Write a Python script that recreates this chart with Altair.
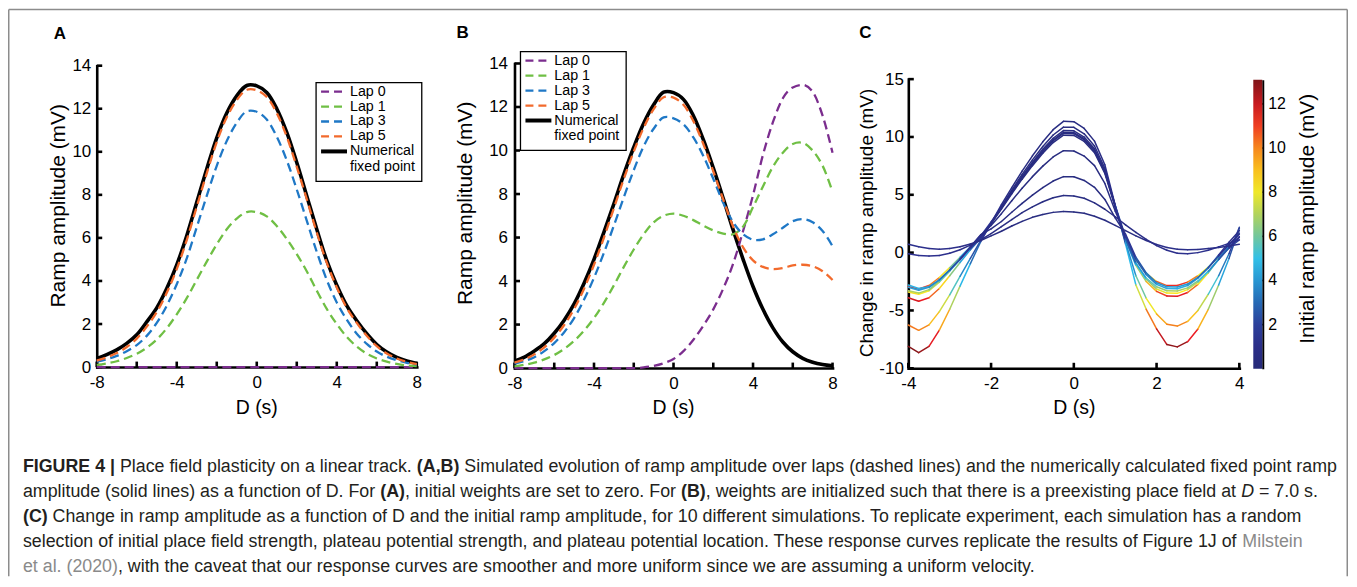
import altair as alt
import pandas as pd

FONT = "Liberation Sans"
W, H = 1345, 569
TEXT = "#231f20"
GREY = "#8a8a8a"

# ---------------- data: panels A and B ----------------
X_AB = [-8.0, -7.5, -7.0, -6.5, -6.0, -5.5, -5.0, -4.5, -4.0, -3.5, -3.0, -2.5, -2.0, -1.5, -1.0, -0.5,
        0.0, 0.5, 1.0, 1.5, 2.0, 2.5, 3.0, 3.5, 4.0, 4.5, 5.0, 5.5, 6.0, 6.5, 7.0, 7.5, 8.0]

A_FIXED = [0.40, 0.58, 0.80, 1.10, 1.50, 2.10, 2.75, 3.65, 4.75, 6.10, 7.65, 9.20, 10.65, 11.80, 12.60, 13.08,
           13.06, 12.75, 12.00, 10.90, 9.50, 7.95, 6.40, 4.95, 3.80, 2.85, 2.15, 1.55, 1.05, 0.70, 0.45, 0.28, 0.17]
A_LAP0 = [0, 0, 0, 0, 0, 0, 0, 0, 0, 0, 0, 0, 0, 0, 0, 0, 0, 0, 0, 0, 0, 0, 0, 0, 0, 0, 0, 0, 0, 0, 0, 0, 0]
A_LAP1 = [0.10, 0.17, 0.27, 0.42, 0.62, 0.90, 1.28, 1.80, 2.45, 3.20, 4.05, 4.90, 5.70, 6.40, 6.90, 7.20,
          7.20, 7.00, 6.55, 5.95, 5.25, 4.45, 3.55, 2.70, 2.00, 1.40, 0.95, 0.62, 0.40, 0.25, 0.15, 0.08, 0.05]
A_LAP3 = [0.25, 0.36, 0.52, 0.74, 1.02, 1.45, 2.05, 2.85, 3.85, 5.05, 6.50, 7.95, 9.35, 10.50, 11.35, 11.88,
          11.86, 11.50, 10.70, 9.60, 8.25, 6.80, 5.35, 4.05, 3.00, 2.20, 1.55, 1.08, 0.72, 0.48, 0.32, 0.20, 0.12]
A_LAP5 = [0.30, 0.45, 0.65, 0.93, 1.32, 1.88, 2.55, 3.45, 4.55, 5.90, 7.45, 9.00, 10.45, 11.60, 12.40, 12.88,
          12.86, 12.55, 11.80, 10.70, 9.30, 7.80, 6.25, 4.85, 3.70, 2.75, 2.05, 1.45, 0.97, 0.63, 0.40, 0.24, 0.14]

B_FIXED = [0.32, 0.50, 0.78, 1.12, 1.60, 2.20, 2.95, 3.90, 5.00, 6.25, 7.55, 8.90, 10.15, 11.25, 12.10, 12.68,
           12.66, 12.35, 11.60, 10.50, 9.20, 7.80, 6.35, 5.00, 3.75, 2.70, 1.85, 1.20, 0.75, 0.45, 0.27, 0.16, 0.10]
B_LAP0 = [0, 0, 0, 0, 0, 0, 0, 0, 0, 0, 0, 0, 0, 0.03, 0.10, 0.22,
          0.42, 0.78, 1.30, 1.95, 2.70, 3.65, 4.80, 6.30, 7.95, 9.80, 11.30, 12.40, 12.90, 13.02, 12.70, 11.60, 9.90]
B_LAP1 = [0.08, 0.15, 0.25, 0.40, 0.60, 0.88, 1.25, 1.72, 2.30, 3.00, 3.80, 4.65, 5.45, 6.15, 6.70, 7.00,
          7.10, 7.00, 6.80, 6.55, 6.33, 6.18, 6.15, 6.50, 7.40, 8.35, 9.25, 9.90, 10.30, 10.35, 10.00, 9.30, 8.10]
B_LAP3 = [0.20, 0.32, 0.50, 0.78, 1.15, 1.65, 2.30, 3.15, 4.15, 5.30, 6.55, 7.85, 9.10, 10.20, 11.00, 11.52,
          11.48, 11.20, 10.60, 9.75, 8.70, 7.60, 6.70, 6.15, 5.90, 5.92, 6.15, 6.45, 6.75, 6.85, 6.70, 6.30, 5.60]
B_LAP5 = [0.25, 0.40, 0.63, 0.95, 1.40, 1.98, 2.72, 3.65, 4.75, 6.00, 7.35, 8.70, 9.95, 11.05, 11.90, 12.45,
          12.43, 12.10, 11.35, 10.30, 9.05, 7.75, 6.50, 5.55, 4.95, 4.65, 4.55, 4.60, 4.72, 4.75, 4.68, 4.45, 4.05]

SERIES = ["Lap 0", "Lap 1", "Lap 3", "Lap 5", "Numerical fixed point"]
SERIES_KEYS = ["lap0", "lap1", "lap3", "lap5", "fixed"]
SERIES_COLORS = ["#7b2d8e", "#6fbf44", "#1f78c6", "#f26a2c", "#000000"]
DASH = [9, 5]

# ---------------- data: panel C ----------------
X_C = [-4.0, -3.75, -3.5, -3.25, -3.0, -2.75, -2.5, -2.25, -2.0, -1.75, -1.5, -1.25, -1.0, -0.75, -0.5, -0.25,
       0.0, 0.25, 0.5, 0.75, 1.0, 1.25, 1.5, 1.75, 2.0, 2.25, 2.5, 2.75, 3.0, 3.25, 3.5, 3.75, 4.0]

C_CHANGE = [
    [-8.1, -8.65, -8.1, -6.7, -4.9, -2.9, -0.95, 0.95, 2.55, 4.14, 5.62, 7.05, 8.37, 9.58, 10.63, 11.35,
     11.32, 10.74, 9.64, 7.6, 4.1, 0.75, -2.8, -4.9, -6.6, -7.95, -8.15, -7.7, -6.6, -4.9, -2.8, -0.5, 2.1],
    [-6.26, -6.72, -6.25, -5.1, -3.65, -2.05, -0.5, 1.05, 2.5, 3.98, 5.4, 6.76, 8.02, 9.17, 10.17, 10.85,
     10.83, 10.27, 9.22, 7.29, 4.0, 0.9, -2.0, -3.95, -5.3, -6.2, -6.35, -5.95, -5.0, -3.6, -2.0, -0.1, 2.2],
    [-3.9, -4.2, -3.9, -3.1, -2.0, -0.85, 0.25, 1.25, 2.52, 3.9, 5.27, 6.6, 7.81, 8.93, 9.89, 10.55,
     10.53, 9.99, 8.98, 7.1, 4.05, 1.05, -1.1, -2.5, -3.35, -3.75, -3.78, -3.45, -2.75, -1.75, -0.55, 0.6, 1.7],
    [-2.95, -3.15, -2.85, -2.15, -1.3, -0.4, 0.5, 1.45, 2.65, 3.9, 5.2, 6.5, 7.7, 8.8, 9.75, 10.4,
     10.38, 9.85, 8.85, 7.0, 4.1, 1.35, -0.6, -1.8, -2.5, -2.85, -2.85, -2.55, -2.0, -1.25, -0.4, 0.4, 1.1],
    [-3.4, -3.6, -3.3, -2.55, -1.6, -0.6, 0.4, 1.35, 2.55, 3.82, 5.16, 6.44, 7.63, 8.72, 9.66, 10.3,
     10.28, 9.76, 8.77, 6.94, 4.0, 1.15, -0.95, -2.3, -3.15, -3.5, -3.52, -3.2, -2.55, -1.65, -0.6, 0.45, 1.4],
    [-3.3, -3.5, -3.2, -2.45, -1.5, -0.55, 0.4, 1.3, 2.5, 3.77, 5.09, 6.35, 7.52, 8.59, 9.52, 10.15,
     10.13, 9.61, 8.64, 6.84, 3.95, 1.2, -0.9, -2.2, -2.95, -3.3, -3.32, -3.05, -2.45, -1.6, -0.6, 0.4, 1.3],
    [-2.8, -3.1, -2.95, -2.35, -1.5, -0.55, 0.45, 1.5, 2.35, 3.37, 4.49, 5.57, 6.57, 7.48, 8.27, 8.81,
     8.79, 8.35, 7.52, 5.98, 3.6, 1.45, -0.6, -1.9, -2.75, -3.1, -3.12, -2.85, -2.2, -1.3, -0.2, 0.9, 1.9],
    [-3.0, -3.25, -3.0, -2.35, -1.5, -0.6, 0.5, 1.55, 2.05, 2.69, 3.49, 4.26, 4.97, 5.62, 6.19, 6.57,
     6.56, 6.24, 5.65, 4.6, 3.0, 1.6, -0.4, -1.75, -2.6, -2.95, -2.98, -2.72, -2.15, -1.3, -0.3, 0.7, 1.6],
    [-0.1, -0.25, -0.3, -0.25, -0.05, 0.25, 0.65, 1.1, 1.65, 2.25, 2.85, 3.45, 3.95, 4.4, 4.75, 4.93,
     4.9, 4.7, 4.3, 3.75, 3.1, 2.4, 1.75, 1.15, 0.6, 0.2, -0.05, -0.1, 0.0, 0.2, 0.5, 0.8, 1.1],
    [0.72, 0.5, 0.35, 0.3, 0.35, 0.5, 0.75, 1.05, 1.45, 1.85, 2.3, 2.7, 3.05, 3.3, 3.48, 3.55,
     3.52, 3.4, 3.15, 2.8, 2.35, 1.9, 1.45, 1.05, 0.7, 0.45, 0.3, 0.25, 0.28, 0.35, 0.45, 0.58, 0.72],
]
C_INITIAL = [
    [13.0, 13.0, 12.4, 10.7, 8.2, 5.7, 3.8, 2.4, 1.5, 1.0, 0.7, 0.7, 0.7, 0.7, 0.7, 0.7,
     0.7, 0.7, 0.7, 0.9, 1.7, 3.6, 6.1, 9.0, 11.4, 12.7, 13.0, 12.4, 10.5, 8.0, 5.4, 3.2, 1.7],
    [10.2, 10.2, 9.7, 8.4, 6.5, 4.5, 3.0, 2.0, 1.3, 0.9, 0.6, 0.6, 0.6, 0.6, 0.6, 0.6,
     0.6, 0.6, 0.6, 0.8, 1.4, 2.9, 4.8, 7.1, 8.9, 10.0, 10.2, 9.7, 8.2, 6.3, 4.3, 2.6, 1.4],
    [11.8, 11.8, 11.2, 9.7, 7.5, 5.2, 3.5, 2.2, 1.4, 1.0, 0.6, 0.6, 0.6, 0.6, 0.6, 0.6,
     0.6, 0.6, 0.6, 0.9, 1.5, 3.3, 5.5, 8.2, 10.3, 11.6, 11.8, 11.2, 9.5, 7.2, 5.0, 2.9, 1.5],
    [11.4, 11.4, 10.9, 9.4, 7.2, 5.0, 3.4, 2.2, 1.4, 1.0, 0.6, 0.6, 0.6, 0.6, 0.6, 0.6,
     0.6, 0.6, 0.6, 0.8, 1.5, 3.2, 5.4, 7.9, 10.0, 11.2, 11.4, 10.9, 9.2, 7.0, 4.8, 2.8, 1.5],
    [8.4, 8.4, 8.0, 7.0, 5.4, 3.8, 2.6, 1.7, 1.1, 0.8, 0.6, 0.6, 0.6, 0.6, 0.6, 0.6,
     0.6, 0.6, 0.6, 0.7, 1.2, 2.4, 4.0, 5.8, 7.4, 8.2, 8.4, 8.0, 6.8, 5.2, 3.6, 2.2, 1.2],
    [7.0, 7.0, 6.7, 5.8, 4.5, 3.2, 2.2, 1.5, 1.0, 0.7, 0.5, 0.5, 0.5, 0.5, 0.5, 0.5,
     0.5, 0.5, 0.5, 0.7, 1.1, 2.1, 3.4, 4.9, 6.1, 6.9, 7.0, 6.7, 5.7, 4.4, 3.0, 1.9, 1.1],
    [4.6, 4.6, 4.4, 3.8, 3.0, 2.2, 1.5, 1.1, 0.8, 0.6, 0.5, 0.5, 0.5, 0.5, 0.5, 0.5,
     0.5, 0.5, 0.5, 0.6, 0.8, 1.5, 2.3, 3.3, 4.1, 4.5, 4.6, 4.4, 3.8, 2.9, 2.1, 1.3, 0.8],
    [4.2, 4.2, 4.0, 3.5, 2.8, 2.0, 1.4, 1.0, 0.7, 0.6, 0.5, 0.5, 0.5, 0.5, 0.5, 0.5,
     0.5, 0.5, 0.5, 0.6, 0.8, 1.4, 2.1, 3.0, 3.7, 4.1, 4.2, 4.0, 3.4, 2.7, 1.9, 1.2, 0.8],
    [1.6, 1.5, 1.4, 1.3, 1.2, 1.1, 1.0, 0.9, 0.8, 0.7, 0.6, 0.6, 0.6, 0.6, 0.6, 0.6,
     0.6, 0.6, 0.6, 0.6, 0.7, 0.8, 0.9, 1.0, 1.1, 1.2, 1.3, 1.3, 1.3, 1.3, 1.3, 1.3, 1.3],
    [1.3, 1.3, 1.2, 1.2, 1.1, 1.0, 0.9, 0.8, 0.7, 0.6, 0.5, 0.5, 0.5, 0.5, 0.5, 0.5,
     0.5, 0.5, 0.5, 0.6, 0.6, 0.7, 0.8, 0.9, 1.0, 1.1, 1.1, 1.1, 1.1, 1.1, 1.1, 1.1, 1.1],
]

CB_TICKS = [2, 4, 6, 8, 10, 12]
CB_MAX = 13.1
JET = ["#262a78", "#2e3192", "#2474bb", "#2cc0ee", "#95c973", "#fbec1f", "#f7941d", "#ec1c24", "#7e1518"]
CB_STOPS = [CB_MAX * i / (len(JET) - 1) for i in range(len(JET))]

AB_XLABELS = [-8, -4, 0, 4, 8]
AB_XTICKS = [-8, -6, -4, -2, 0, 2, 4, 6, 8]
AB_YTICKS = [0, 2, 4, 6, 8, 10, 12, 14]
C_XTICKS = [-4, -2, 0, 2, 4]
C_YTICKS = [-10, -5, 0, 5, 10, 15]

# ---------------- layout (pixels inside the view) ----------------
PANELS = {
    "A": dict(xd=[-8, 8], yd=[0, 14], x0=89, x1=410, y0=359.3, y1=57.0,
              ytx=50.3, yty=197.0, ytfs=21, ylp=6, xt=249),
    "B": dict(xd=[-8, 8], yd=[0, 14], x0=508, x1=827, y0=360.3, y1=54.8,
              ytx=459.3, yty=194.5, ytfs=21, ylp=7, xt=667),
    "C": dict(xd=[-4, 4], yd=[-10, 15], x0=903, x1=1235, y0=360.5, y1=70.5,
              ytx=861.0, yty=214.3, ytfs=19, ylp=5, xt=1069),
}
CB = dict(x0=1249, x1=1258, y0=361, y1=71)
TICK_LEN = 5.5


def sx(p):
    return alt.Scale(domain=p["xd"], range=[p["x0"], p["x1"]], nice=False, zero=False)


def sy(p):
    return alt.Scale(domain=p["yd"], range=[p["y0"], p["y1"]], nice=False, zero=False)


def main_x_axis(p, values):
    return alt.Axis(orient="bottom", offset=p["y0"] - H, values=values, title="D (s)",
                    titleX=p["xt"], titleY=400 - p["y0"], titleAlign="center", titleBaseline="middle",
                    titleFont=FONT, titleFontSize=19.5, titleFontWeight="normal", titleColor="black",
                    labelFont=FONT, labelFontSize=17, labelColor="black", labelPadding=15.5,
                    labelBaseline="middle", labelFlush=False, labelOverlap=False,
                    labelExpr="toString(datum.value)", ticks=False, tickSize=0, grid=False,
                    domain=True, domainColor="black", domainWidth=2.6, domainCap="square")


def main_y_axis(p, values, title):
    return alt.Axis(orient="left", offset=-p["x0"], values=values, title=title,
                    titleX=p["ytx"] - p["x0"], titleY=p["yty"], titleAngle=270, titleAlign="center",
                    titleBaseline="middle", titleFont=FONT, titleFontSize=p["ytfs"],
                    titleFontWeight="normal", titleColor="black",
                    labelFont=FONT, labelFontSize=17, labelColor="black", labelPadding=p["ylp"],
                    labelOverlap=False, labelFlush=False, labelExpr="toString(datum.value)",
                    ticks=False, tickSize=0, grid=False,
                    domain=True, domainColor="black", domainWidth=2.6, domainCap="square")


def inward_ticks(p, xticks, yticks):
    """MATLAB-style ticks pointing into the plot, placed through the panel scales."""
    out = []
    out.append(alt.Chart(pd.DataFrame({"v": xticks})).mark_rule(color="black", strokeWidth=2.6).encode(
        x=alt.X("v:Q", scale=sx(p), axis=None),
        y=alt.value(p["y0"]), y2=alt.value(p["y0"] - TICK_LEN)))
    out.append(alt.Chart(pd.DataFrame({"v": yticks})).mark_rule(color="black", strokeWidth=2.6).encode(
        y=alt.Y("v:Q", scale=sy(p), axis=None),
        x=alt.value(p["x0"]), x2=alt.value(p["x0"] + TICK_LEN)))
    return out


layers = []

# ---------------- frame ----------------
FR = "#8c8c8c"
layers.append(alt.Chart().mark_rule(color=FR, strokeWidth=1.5).encode(
    x=alt.value(0.75), x2=alt.value(1343.25), y=alt.value(0.75)))
layers.append(alt.Chart().mark_rule(color=FR, strokeWidth=1.5).encode(
    x=alt.value(0.75), y=alt.value(0.75), y2=alt.value(H)))
layers.append(alt.Chart().mark_rule(color=FR, strokeWidth=1.5).encode(
    x=alt.value(1343.25), y=alt.value(0.75), y2=alt.value(H)))


# ---------------- panels A and B ----------------
def ab_panel(key, data, legend_box):
    p = PANELS[key]
    df = pd.DataFrame({"x": X_AB, **data})
    layers.extend(inward_ticks(p, AB_XTICKS, AB_YTICKS))
    order = ["fixed", "lap0", "lap1", "lap3", "lap5"]
    for k in order:
        i = SERIES_KEYS.index(k)
        if k == "fixed":
            mk = alt.Chart(df).mark_line(color=SERIES_COLORS[i], strokeWidth=3.6, interpolate="catmull-rom")
            xa, ya = main_x_axis(p, AB_XLABELS), main_y_axis(p, AB_YTICKS, "Ramp amplitude (mV)")
        else:
            interp = "monotone" if k == "lap0" else "catmull-rom"
            mk = alt.Chart(df).mark_line(color=SERIES_COLORS[i], strokeWidth=2.3, strokeDash=DASH,
                                         interpolate=interp)
            xa, ya = None, None
        layers.append(mk.encode(x=alt.X("x:Q", scale=sx(p), axis=xa),
                                y=alt.Y(k + ":Q", scale=sy(p), axis=ya)))
    # legend
    bx0, by0, bx1, by1 = legend_box
    layers.append(alt.Chart().mark_rect(fill="white", stroke="black", strokeWidth=1.3).encode(
        x=alt.value(bx0), x2=alt.value(bx1), y=alt.value(by0), y2=alt.value(by1)))
    for i, name in enumerate(SERIES):
        ry = by0 + 9 + 15 * i
        if SERIES_KEYS[i] == "fixed":
            ln = alt.Chart().mark_rule(color=SERIES_COLORS[i], strokeWidth=4)
        else:
            ln = alt.Chart().mark_rule(color=SERIES_COLORS[i], strokeWidth=2.3, strokeDash=[8, 5])
        layers.append(ln.encode(x=alt.value(bx0 + 5), x2=alt.value(bx0 + 31), y=alt.value(ry)))
        parts = ["Numerical", "fixed point"] if SERIES_KEYS[i] == "fixed" else [name]
        for j, t in enumerate(parts):
            layers.append(alt.Chart().mark_text(text=t, align="left", baseline="middle", font=FONT,
                                                fontSize=14.3, color="black").encode(
                x=alt.value(bx0 + 34), y=alt.value(ry + 16 * j)))


ab_panel("A", {"fixed": A_FIXED, "lap0": A_LAP0, "lap1": A_LAP1, "lap3": A_LAP3, "lap5": A_LAP5},
         (309, 74, 415, 173))
ab_panel("B", {"fixed": B_FIXED, "lap0": B_LAP0, "lap1": B_LAP1, "lap3": B_LAP3, "lap5": B_LAP5},
         (514, 43, 620, 142))

# ---------------- panel C ----------------
pC = PANELS["C"]
rows = []
for k, (ys, cs) in enumerate(zip(C_CHANGE, C_INITIAL)):
    for i in range(len(X_C) - 1):
        rows.append(dict(curve=k, x1=X_C[i], x2=X_C[i + 1], y1=ys[i], y2=ys[i + 1],
                         c=(cs[i] + cs[i + 1]) / 2))
seg = pd.DataFrame(rows)

color_enc = alt.Color(
    "c:Q",
    scale=alt.Scale(domain=CB_STOPS, range=JET, interpolate="rgb"),
    legend=alt.Legend(orient="none", legendX=CB["x0"], legendY=CB["y1"], direction="vertical",
                      gradientLength=CB["y0"] - CB["y1"], gradientThickness=CB["x1"] - CB["x0"],
                      gradientStrokeWidth=0, padding=0, title=None, values=CB_TICKS,
                      labelFont=FONT, labelFontSize=16, labelColor="black", labelOffset=6,
                      labelOverlap=False),
)

layers.extend(inward_ticks(pC, C_XTICKS, C_YTICKS))
layers.append(alt.Chart(seg).mark_rule(strokeWidth=1.5, strokeCap="round").encode(
    x=alt.X("x1:Q", scale=sx(pC), axis=main_x_axis(pC, C_XTICKS)), x2="x2:Q",
    y=alt.Y("y1:Q", scale=sy(pC), axis=main_y_axis(pC, C_YTICKS, "Change in ramp amplitude (mV)")),
    y2="y2:Q", color=color_enc, detail="curve:N"))

# colorbar border line and inward ticks
cb_df = pd.DataFrame({"v": CB_TICKS})
layers.append(alt.Chart(cb_df).mark_rule(color="black", strokeWidth=1.6).encode(
    y=alt.Y("v:Q", scale=alt.Scale(domain=[0, CB_MAX], range=[CB["y0"], CB["y1"]], nice=False, zero=False),
            axis=alt.Axis(orient="left", offset=-(CB["x1"] + 0.5), labels=False, ticks=False, grid=False,
                          title=None, domain=True, domainColor="black", domainWidth=2, values=CB_TICKS)),
    x=alt.value(CB["x1"] - 3.5), x2=alt.value(CB["x1"] + 0.5)))

layers.append(alt.Chart().mark_text(text="Initial ramp amplitude (mV)", angle=270, align="center",
                                    baseline="middle", font=FONT, fontSize=21, color="black").encode(
    x=alt.value(1304), y=alt.value(210.5)))

# ---------------- panel letters ----------------
for letter, lx, ly in [("A", 52, 25), ("B", 456, 24), ("C", 860, 24)]:
    layers.append(alt.Chart().mark_text(text=letter, align="center", baseline="middle", font=FONT,
                                        fontSize=17, fontWeight="bold", color="black").encode(
        x=alt.value(lx), y=alt.value(ly)))

# ---------------- caption ----------------
W_REG = {' ': 278, '(': 333, ')': 333, ',': 278, '-': 333, '.': 278, '=': 584, '|': 260,
         '0': 556, '1': 556, '2': 556, '3': 556, '4': 556, '5': 556, '6': 556, '7': 556, '8': 556, '9': 556,
         'A': 667, 'B': 667, 'C': 722, 'D': 722, 'E': 667, 'F': 611, 'G': 778, 'H': 722, 'I': 278, 'J': 500,
         'K': 667, 'L': 556, 'M': 833, 'N': 722, 'O': 778, 'P': 667, 'Q': 778, 'R': 722, 'S': 667, 'T': 611,
         'U': 722, 'V': 667, 'W': 944, 'X': 667, 'Y': 667, 'Z': 611,
         'a': 556, 'b': 556, 'c': 500, 'd': 556, 'e': 556, 'f': 278, 'g': 556, 'h': 556, 'i': 222, 'j': 222,
         'k': 500, 'l': 222, 'm': 833, 'n': 556, 'o': 556, 'p': 556, 'q': 556, 'r': 333, 's': 500, 't': 278,
         'u': 556, 'v': 500, 'w': 722, 'x': 500, 'y': 500, 'z': 500}
W_BOLD = {' ': 278, '(': 333, ')': 333, ',': 278, '|': 280, '4': 556,
          'A': 722, 'B': 722, 'C': 722, 'E': 667, 'F': 611, 'G': 778, 'I': 278, 'R': 722, 'U': 722}

CAPTION = [
    [("FIGURE 4 |", "b"), (" Place field plasticity on a linear track. ", "r"), ("(A,B)", "b"),
     (" Simulated evolution of ramp amplitude over laps (dashed lines) and the numerically calculated fixed point ramp", "r")],
    [("amplitude (solid lines) as a function of D. For ", "r"), ("(A)", "b"),
     (", initial weights are set to zero. For ", "r"), ("(B)", "b"),
     (", weights are initialized such that there is a preexisting place field at ", "r"), ("D", "i"),
     (" = 7.0 s.", "r")],
    [("(C)", "b"),
     (" Change in ramp amplitude as a function of D and the initial ramp amplitude, for 10 different simulations. To replicate experiment, each simulation has a random", "r")],
    [("selection of initial place field strength, plateau potential strength, and plateau potential location. These response curves replicate the results of Figure 1J of ", "r"),
     ("Milstein", "g")],
    [("et al. (2020)", "g"),
     (", with the caveat that our response curves are smoother and more uniform since we are assuming a uniform velocity.", "r")],
]
FS = 17.86
CAP_X0, CAP_Y0, CAP_DY = 15.0, 460.0, 25.0


def tw(s, style):
    tab = W_BOLD if style == "b" else W_REG
    return sum(tab.get(ch, W_REG.get(ch, 556)) for ch in s) / 1000.0


for li, line in enumerate(CAPTION):
    cx = CAP_X0
    cy = CAP_Y0 + li * CAP_DY
    for text, style in line:
        lead = len(text) - len(text.lstrip(" "))
        px = cx + tw(" " * lead, style) * FS
        layers.append(alt.Chart().mark_text(
            text=text.strip(), align="left", baseline="middle", font=FONT, fontSize=FS,
            fontWeight="bold" if style == "b" else "normal",
            fontStyle="italic" if style == "i" else "normal",
            color=GREY if style == "g" else TEXT).encode(x=alt.value(px), y=alt.value(cy)))
        cx += tw(text, style) * FS

chart = alt.layer(*layers).resolve_scale(x="independent", y="independent").properties(
    width=W, height=H, padding=0, autosize=alt.AutoSizeParams(type="none")
).configure_view(strokeWidth=0)

chart.save("out.html", embed_options={"renderer": "svg", "actions": False})
